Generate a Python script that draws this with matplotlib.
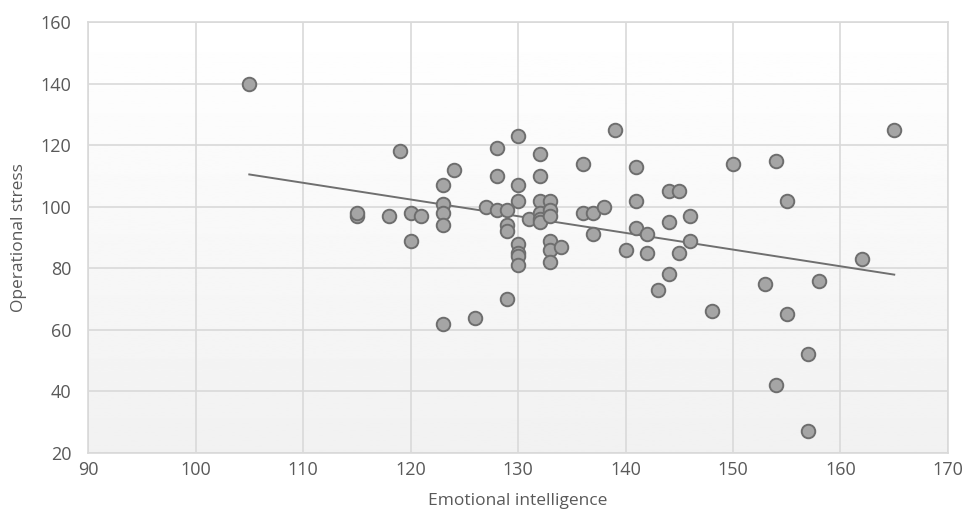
import numpy as np
from matplotlib import pyplot as plt

# emotional intelligence vs operational stress
ei = [105, 115, 115, 118, 119, 120, 120, 121, 123, 123, 123, 123, 123,
      124, 126, 127, 128, 128, 128, 129, 129, 129, 129,
      130, 130, 130, 130, 130, 130, 130, 131,
      132, 132, 132, 132, 132, 132, 133, 133, 133, 133, 133, 133, 134,
      136, 136, 137, 137, 138, 139, 140, 141, 141, 141, 142, 142, 143,
      144, 144, 144, 145, 145, 146, 146, 148, 150, 153, 154, 154,
      155, 155, 157, 157, 158, 162, 165]
stress = [140, 97, 98, 97, 118, 98, 89, 97, 107, 101, 98, 94, 62,
          112, 64, 100, 119, 110, 99, 99, 94, 92, 70,
          123, 107, 102, 88, 85, 84, 81, 96,
          117, 110, 102, 98, 96, 95, 102, 99, 97, 89, 86, 82, 87,
          114, 98, 98, 91, 100, 125, 86, 113, 102, 93, 91, 85, 73,
          105, 95, 78, 105, 85, 97, 89, 66, 114, 75, 115, 42,
          102, 65, 52, 27, 76, 83, 125]

x_ticks = list(range(90, 171, 10))
y_ticks = list(range(20, 161, 20))

plt.rcParams['font.family'] = ['Open Sans', 'DejaVu Sans']

fig = plt.figure(figsize=(9.75, 5.22), dpi=100)
ax = fig.add_axes([0.0903, 0.1322, 0.882, 0.8257])

# soft white-to-grey gradient behind the plot area
grad = np.linspace(1.0, 0.945, 256).reshape(-1, 1)
ax.imshow(grad, cmap='gray', vmin=0, vmax=1, aspect='auto',
          extent=[0, 1, 0, 1], transform=ax.transAxes, zorder=0)

ax.set_xlim(90, 170)
ax.set_ylim(20, 160)
ax.set_xticks(x_ticks)
ax.set_yticks(y_ticks)
ax.grid(True, color='#d9d9d9', linewidth=1.2, zorder=1)
for s in ax.spines.values():
    s.set_color('#d9d9d9')
    s.set_linewidth(1.2)
ax.tick_params(length=0, labelsize=13, labelcolor='#595959')
ax.tick_params(axis='y', pad=12)
ax.tick_params(axis='x', pad=6)

# linear trendline
k, b = np.polyfit(ei, stress, 1)
xs = np.array([min(ei), max(ei)])
ax.plot(xs, k * xs + b, color='#6f6f6f', linewidth=1.4, zorder=2)

ax.scatter(ei, stress, s=95, facecolor='#a5a5a5', edgecolor='#6e6e6e',
           linewidth=1.4, zorder=3)

ax.set_xlabel('Emotional intelligence', fontsize=12.5, color='#595959', labelpad=10)
ax.set_ylabel('Operational stress', fontsize=12.5, color='#595959', labelpad=10)

fig.savefig('out.png', dpi=100)
